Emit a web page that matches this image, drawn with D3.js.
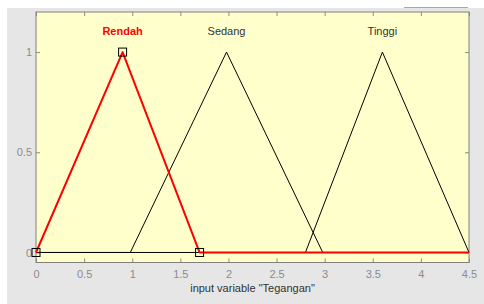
<!DOCTYPE html>
<html><head><meta charset="utf-8">
<script src="https://cdn.jsdelivr.net/npm/d3@7"></script>
<style>body{margin:0;background:#fff;}svg{display:block;font-family:"Liberation Sans",Arial,sans-serif;}</style>
</head><body>
<svg id="c" width="484" height="304"></svg>
<script>
const mfNames = ["Rendah", "Sedang", "Tinggi"];
const mfA = [0, 0.98, 2.8];
const mfB = [0.9, 1.98, 3.6];
const mfC = [1.7, 2.98, 4.5];
const selected = 0;
const xTicks = [0, 0.5, 1, 1.5, 2, 2.5, 3, 3.5, 4, 4.5];
const yTicks = [0, 0.5, 1];
const xRange = [0, 4.5];
const xLabel = 'input variable "Tegangan"';

const svg = d3.select("#c");
svg.append("rect").attr("x",7).attr("y",8).attr("width",477).attr("height",296).attr("fill","#e6e6e6");
svg.append("line").attr("x1",404).attr("x2",468).attr("y1",7.5).attr("y2",7.5).attr("stroke","#a8a8a8");

const L=36, R=469, T=12, B=262.5;
const x = d3.scaleLinear().domain(xRange).range([L,R]);
const y = d3.scaleLinear().domain([-0.05,1.2]).range([B,T]);

svg.append("rect").attr("x",L).attr("y",T).attr("width",R-L).attr("height",B-T).attr("fill","#ffffcc");

// axes
const tickLen = 4;
const gx = svg.append("g").attr("transform",`translate(0,${B})`)
  .call(d3.axisBottom(x).tickValues(xTicks).tickSize(-tickLen).tickPadding(8).tickFormat(d3.format("")));
const gxt = svg.append("g").attr("transform",`translate(0,${T})`)
  .call(d3.axisTop(x).tickValues(xTicks).tickSize(-tickLen).tickFormat(""));
const gy = svg.append("g").attr("transform",`translate(${L},0)`)
  .call(d3.axisLeft(y).tickValues(yTicks).tickSize(-tickLen).tickPadding(4).tickFormat(d3.format("")));
const gyr = svg.append("g").attr("transform",`translate(${R},0)`)
  .call(d3.axisRight(y).tickValues(yTicks).tickSize(-tickLen).tickFormat(""));
[gx,gxt,gy,gyr].forEach(g=>{
  g.select(".domain").remove();
  g.selectAll(".tick line").attr("stroke","#8c8c8c");
  g.selectAll("text").attr("fill","#8c8c8c").attr("font-size",11);
});
gx.selectAll("text").attr("dy","0.71em");

svg.append("rect").attr("x",L).attr("y",T).attr("width",R-L).attr("height",B-T)
  .attr("fill","none").attr("stroke","#808080").attr("stroke-width",1);

const line = d3.line().x(d=>x(d[0])).y(d=>y(d[1]));
const order = mfNames.map((n,i)=>i).filter(i=>i!==selected).concat([selected]);
order.forEach(i=>{
  const pts = [[xRange[0],0],[mfA[i],0],[mfB[i],1],[mfC[i],0],[xRange[1],0]];
  const sel = i===selected;
  svg.append("path").attr("d",line(pts)).attr("fill","none")
    .attr("stroke", sel?"#ff0000":"#000").attr("stroke-width", sel?2:1)
    .attr("stroke-linejoin","round");
  if(sel){
    [[mfA[i],0],[mfB[i],1],[mfC[i],0]].forEach(p=>{
      svg.append("rect").attr("x",x(p[0])-4).attr("y",y(p[1])-4).attr("width",8).attr("height",8)
        .attr("fill","none").attr("stroke","#000").attr("stroke-width",1);
    });
  }
});
mfNames.forEach((n,i)=>{
  const sel=i===selected;
  svg.append("text").attr("x",x(mfB[i])).attr("y",35).attr("text-anchor","middle")
    .attr("font-size",11).attr("font-weight",sel?"bold":"normal")
    .attr("fill",sel?"#ff0000":"#333").text(n);
});
svg.append("text").attr("x",(L+R)/2).attr("y",292).attr("text-anchor","middle")
  .attr("font-size",11).attr("fill","#333").text(xLabel);
</script>
</body></html>
